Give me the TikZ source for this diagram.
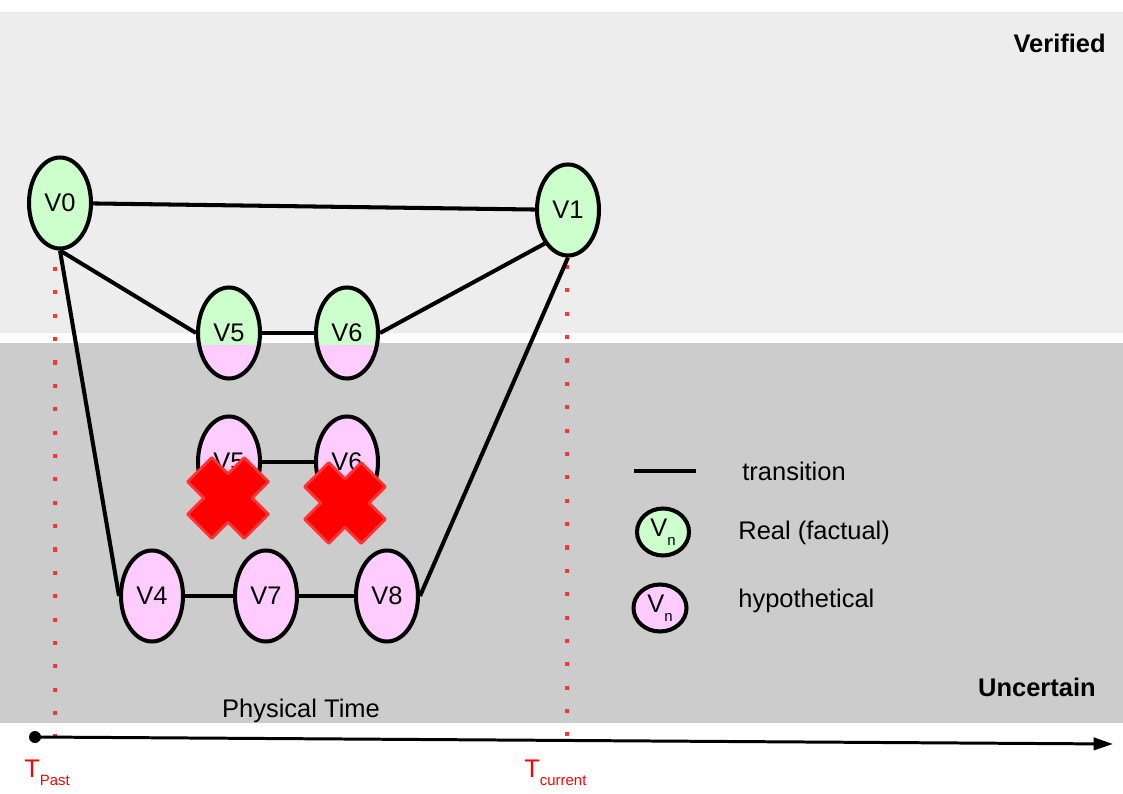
\documentclass[tikz,border=0pt]{standalone}
\usepackage{fontspec}
\setmainfont{Liberation Sans}
\usetikzlibrary{arrows.meta,positioning,shapes.geometric}
\definecolor{realgreen}{HTML}{CCFFCC}
\definecolor{hypopink}{HTML}{FFCCFF}
\definecolor{verband}{HTML}{EDEDED}
\definecolor{uncband}{HTML}{CCCCCC}
\definecolor{tred}{HTML}{FF3333}
\definecolor{xred}{HTML}{FF0000}
\newcommand{\lowsub}[1]{\raisebox{-5pt}{\fontsize{8.5}{9}\selectfont #1}}

\begin{document}
\begin{tikzpicture}[x=0.2mm, y=-0.2mm,
  state/.style={ellipse, draw=black, line width=2.3pt, minimum width=1.24cm,
    minimum height=1.82cm, inner sep=0pt, font=\fontsize{14.5}{17}\selectfont},
  real/.style={state, fill=realgreen},
  hypo/.style={state, fill=hypopink},
  halfhypo/.style={real, path picture={
    \fill[hypopink] ([yshift=-0.24cm]path picture bounding box.west)
      rectangle (path picture bounding box.south east);}},
  trans/.style={line width=2.3pt},
  xcross/.style={fill=xred, draw=tred, line width=1.6pt, line join=round},
  tline/.style={tred, line width=2.3pt, dash pattern=on 2.3pt off 11pt},
  lbl/.style={font=\fontsize{14.5}{17}\selectfont, inner sep=0pt}]
  \useasboundingbox (0,0) rectangle (1123,794);

  % Bands
  \fill[verband] (0,12) rectangle (1123,333);
  \fill[uncband] (0,343) rectangle (1123,723);
  \node[lbl, font=\fontsize{14.5}{17}\selectfont\bfseries, anchor=east] (verified) at (1106,43) {Verified};
  \node[lbl, font=\fontsize{14.5}{17}\selectfont\bfseries, anchor=east] (uncertain) at (1096,687) {Uncertain};

  % Time markers
  \draw[tline] (55,267) -- (55,740);
  \draw[tline] (567,265) -- (567,737);

  % States
  \node[real] (v0) at (60,203) {V0};
  \node[real] (v1) at (568,210) {V1};
  \node[halfhypo] (v5r) at (229,333) {V5};
  \node[halfhypo] (v6r) at (347,333) {V6};
  \node[hypo] (v5h) at (229,462) {V5};
  \node[hypo] (v6h) at (347,462) {V6};
  \node[hypo] (v4) at (152,596) {V4};
  \node[hypo] (v7) at (266,596) {V7};
  \node[hypo] (v8) at (387,596) {V8};

  % Transitions
  \draw[trans] (v0) -- (v1);
  \draw[trans] (v0.south) -- (v5r.west);
  \draw[trans] (v5r) -- (v6r);
  \draw[trans] (v6r.east) -- (v1.south west);
  \draw[trans] (v5h) -- (v6h);
  \draw[trans] (v0.south) -- (v4.west);
  \draw[trans] (v4) -- (v7);
  \draw[trans] (v7) -- (v8);
  \draw[trans] (v8.east) -- (v1.south);

  % Rejected branch
  \foreach \cx/\cy in {228/498, 345/503} {
    \draw[xcross, shift={(\cx,\cy)}, rotate=45]
      (-40,-17) -- (-17,-17) -- (-17,-40) -- (17,-40) -- (17,-17) -- (40,-17) --
      (40,17) -- (17,17) -- (17,40) -- (-17,40) -- (-17,17) -- (-40,17) -- cycle;
  }

  % Legend
  \coordinate (lgA) at (634,471);
  \coordinate (lgB) at (696,471);
  \draw[line width=2.3pt] (lgA) -- (lgB);
  \node[lbl, anchor=base west] (lgtrans) at (742,481) {transition};
  \node[real, minimum width=1.04cm, minimum height=0.94cm] (lgreal) at (663,532) {V\lowsub{n}};
  \node[lbl, anchor=base west] (lgrealtxt) at (738,540) {Real (factual)};
  \node[hypo, minimum width=1.06cm, minimum height=0.94cm] (lghypo) at (660,608) {V\lowsub{n}};
  \node[lbl, anchor=base west] (lghypotxt) at (738,607) {hypothetical};

  % Physical time axis
  \node[lbl, anchor=base] (ptime) at (301,717) {Physical Time};
  \node[circle, fill=black, inner sep=0pt, minimum size=0.24cm] (tdot) at (35,737) {};
  \coordinate (tend) at (1113,744);
  \draw[line width=1.7pt, -{Triangle[length=11pt,width=7pt]}] (tdot.center) -- (tend);
  \node[lbl, text=red, anchor=base west] (tpast) at (24,777) {T\lowsub{Past}};
  \node[lbl, text=red, anchor=base west] (tcur) at (524,777) {T\lowsub{current}};
\end{tikzpicture}
\end{document}
